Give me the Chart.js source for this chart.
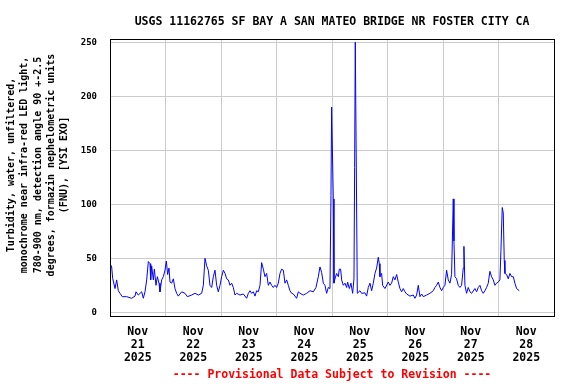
<!DOCTYPE html>
<html>
<head>
<meta charset="utf-8">
<script src="https://cdn.jsdelivr.net/npm/chart.js@4/dist/chart.umd.min.js"></script>
<style>
  body { margin: 0; background: #fff; }
  canvas { display: block; }
</style>
</head>
<body>
<canvas id="chart" width="576" height="384"></canvas>
<script>
// --- Text ---
const chartTitle = 'USGS 11162765 SF BAY A SAN MATEO BRIDGE NR FOSTER CITY CA';
const footNote = '---- Provisional Data Subject to Revision ----';
const yTitle = [
    'Turbidity, water, unfiltered,',
    'monochrome near infra-red LED light,',
    '780-900 nm, detection angle 90 +-2.5',
    'degrees, formazin nephelometric units',
    '(FNU), [YSI EXO]'
];

// --- Axis labels (x is hours since Nov 21 00:00) ---
const dayLabels = [
    ['Nov', '21', '2025'], ['Nov', '22', '2025'], ['Nov', '23', '2025'], ['Nov', '24', '2025'],
    ['Nov', '25', '2025'], ['Nov', '26', '2025'], ['Nov', '27', '2025'], ['Nov', '28', '2025']
];
const yTicks = [0, 50, 100, 150, 200, 250];

// --- Turbidity readings (FNU) ---
const hours = [
    0.29, 0.72, 1.15, 2.16, 2.88, 3.6, 4.32, 5.33, 7.21, 9.37, 10.81, 11.24, 12.25, 13.69, 14.41, 15.13,
    15.86, 16.58, 17.3, 17.59, 18.02, 18.74, 19.17, 19.89, 20.47, 21.19, 21.62, 22.34, 23.06, 23.78, 24.36, 24.93,
    25.51, 25.94, 26.66, 27.38, 28.1, 28.83, 29.55, 30.99, 32.43, 33.44, 35.31, 36.76, 38.2, 39.64, 40.36, 41.08,
    41.8, 42.52, 43.24, 43.96, 44.68, 45.4, 46.12, 46.84, 47.57, 48.29, 49.01, 49.73, 50.45, 51.17, 51.89, 52.61,
    53.33, 54.05, 54.77, 56.21, 57.65, 59.09, 59.82, 60.54, 61.26, 61.98, 62.7, 63.42, 64.14, 64.86, 65.58, 66.3,
    67.02, 67.74, 68.46, 69.18, 69.9, 70.62, 71.34, 72.06, 72.78, 73.51, 74.23, 74.95, 75.67, 76.39, 77.11, 77.83,
    78.55, 79.27, 80.71, 81.43, 82.15, 83.59, 85.04, 86.48, 87.92, 89.07, 90.08, 90.8, 91.52, 92.24, 92.96, 93.68,
    94.4, 95.12, 95.56, 95.84, 96.56, 96.85, 97.28, 98.0, 98.73, 99.16, 99.73, 100.17, 100.89, 101.61, 102.33, 102.76,
    103.48, 104.2, 104.92, 105.5, 105.79, 106.07, 106.94, 108.09, 108.81, 110.25, 110.97, 111.69, 112.42, 113.14, 113.86, 114.58,
    115.3, 116.02, 116.45, 116.74, 117.46, 117.89, 118.9, 120.34, 121.06, 121.78, 122.5, 123.22, 123.94, 124.66, 125.38, 126.1,
    126.83, 127.55, 128.27, 129.71, 131.15, 131.87, 132.59, 133.31, 134.03, 134.75, 135.47, 136.91, 138.35, 139.79, 140.51, 141.24,
    141.96, 142.68, 143.4, 144.12, 144.84, 145.56, 146.28, 147.0, 147.72, 148.44, 148.73, 149.16, 149.88, 150.6, 151.32, 152.04,
    152.76, 153.05, 153.48, 154.2, 154.92, 155.65, 156.37, 157.81, 158.53, 159.25, 159.97, 160.69, 161.41, 162.13, 162.85, 163.57,
    164.29, 165.01, 165.73, 166.45, 167.17, 167.89, 168.61, 169.05, 169.62, 170.06, 170.49, 170.78, 171.5, 172.22, 172.94, 173.66,
    174.38, 175.1, 175.82, 176.97
];
const fnu = [
    44, 42, 31.5, 22, 30, 20, 17.6, 14.5, 14.5, 13, 15, 19, 16, 19, 13, 19,
    30, 47, 45, 30, 43, 30, 40, 25, 33, 27, 19, 30, 33, 39, 47.5, 35,
    41, 28, 27, 31, 22, 17.6, 15, 19, 17.6, 14.5, 16, 17.6, 16, 17.6, 25, 50,
    43, 39, 25, 23, 33, 39, 25, 19, 25, 33, 39, 36, 31, 30, 25, 27,
    23, 16, 17.6, 16, 17, 13, 17.6, 20, 17.6, 19, 15, 20, 19, 25, 46, 40,
    33, 36, 25, 28, 25, 23, 25, 23, 27, 36, 40, 39, 27, 30, 25, 20,
    17.6, 17, 13, 19, 17.6, 16, 17.6, 20, 19, 23, 33, 42, 37, 27, 25, 17.6,
    23, 22, 108, 190, 105, 27, 31, 36, 33, 40, 40, 30, 25, 27, 23, 28,
    22, 27, 17.6, 31, 134, 250, 17.6, 20, 17.6, 18, 15, 23, 27, 20, 27, 36,
    41, 51, 45, 33, 36, 25, 22, 28, 25, 27, 33, 30, 35, 28, 22, 19,
    22, 19, 17, 15, 16, 13, 16, 25, 14.5, 17, 14.5, 16, 17.6, 20, 23, 25,
    28, 23, 20, 23, 25, 39, 30, 27, 35, 105, 66, 33, 31, 25, 23, 25,
    41, 61, 25, 17.6, 23, 19, 17.6, 22, 19, 23, 25, 20, 17.6, 20, 23, 27,
    38, 33, 30, 25, 27, 28, 30, 57, 97, 92, 48, 36, 35, 31, 36, 33,
    33, 27, 22, 20
];

const mono = '"DejaVu Sans Mono", monospace';

const usgsText = {
    id: 'usgsText',
    afterDraw(chart) {
        const { ctx, chartArea: area } = chart;
        const midX = (area.left + area.right) / 2;
        ctx.save();
        // frame round the plot
        ctx.strokeStyle = '#000';
        ctx.lineWidth = 1;
        ctx.strokeRect(area.left + 0.5, area.top + 0.5, area.right - area.left, area.bottom - area.top);

        ctx.textAlign = 'center';
        ctx.textBaseline = 'middle';
        ctx.font = 'bold 11.5px ' + mono;
        ctx.fillStyle = '#000';
        ctx.fillText(chartTitle, midX, 22);
        ctx.fillStyle = '#ff0000';
        ctx.fillText(footNote, midX, 375);

        // rotated y title
        ctx.fillStyle = '#000';
        ctx.font = 'bold 10px ' + mono;
        ctx.translate(0, 165);
        ctx.rotate(-Math.PI / 2);
        yTitle.forEach((line, i) => ctx.fillText(line, 0, 11.5 + i * 13.3));
        ctx.restore();
    }
};

new Chart(document.getElementById('chart'), {
    type: 'line',
    data: {
        datasets: [{
            data: hours.map((h, i) => ({ x: h, y: fnu[i] })),
            borderColor: '#0000ff',
            borderWidth: 1,
            pointRadius: 0,
            tension: 0,
            fill: false
        }]
    },
    options: {
        responsive: false,
        animation: false,
        layout: { padding: { top: 39, right: 22, left: 0, bottom: 0 } },
        plugins: { legend: { display: false }, tooltip: { enabled: false } },
        scales: {
            x: {
                type: 'linear',
                min: 0,
                max: 192,
                afterBuildTicks: axis => {
                    axis.ticks = [];
                    for (let v = 0; v <= 192; v += 12) axis.ticks.push({ value: v });
                },
                afterFit: axis => { axis.height = 68; },
                grid: {
                    drawTicks: false,
                    lineWidth: 1,
                    color: c => (c.tick && c.tick.value % 24 === 0) ? '#cccccc' : 'rgba(0,0,0,0)'
                },
                border: { display: true, color: '#000', width: 1 },
                ticks: {
                    autoSkip: false,
                    maxRotation: 0,
                    padding: 10,
                    color: '#000',
                    font: { family: mono, size: 11.5, weight: 'bold', lineHeight: 1.13 },
                    callback: v => (v % 24 === 12) ? dayLabels[(v - 12) / 24] : ''
                }
            },
            y: {
                min: -3.4,
                max: 253,
                afterBuildTicks: axis => { axis.ticks = yTicks.map(v => ({ value: v })); },
                afterFit: axis => { axis.width = 110; },
                grid: { drawTicks: false, color: '#cccccc', lineWidth: 1 },
                border: { display: true, color: '#000', width: 1 },
                ticks: {
                    padding: 13,
                    color: '#000',
                    font: { family: mono, size: 9, weight: 'bold' }
                }
            }
        }
    },
    plugins: [usgsText]
});
</script>
</body>
</html>
